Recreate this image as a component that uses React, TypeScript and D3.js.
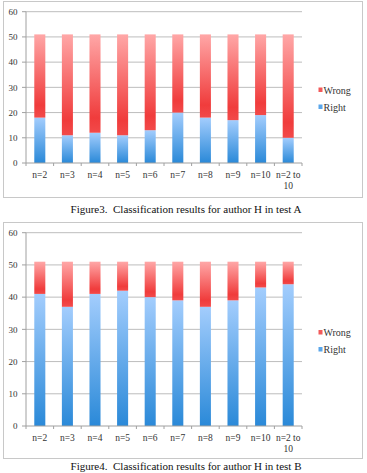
import React from "react";
import * as d3 from "d3";

const categories = ["n=2", "n=3", "n=4", "n=5", "n=6", "n=7", "n=8", "n=9", "n=10", "n=2 to 10"];
const rightA = [18, 11, 12, 11, 13, 20, 18, 17, 19, 10];
const wrongA = [33, 40, 39, 40, 38, 31, 33, 34, 32, 41];
const rightB = [41, 37, 41, 42, 40, 39, 37, 39, 43, 44];
const wrongB = [10, 14, 10, 9, 11, 12, 14, 12, 8, 7];
const yTicks = [0, 10, 20, 30, 40, 50, 60];
const seriesNames = ["Wrong", "Right"];
const captionA = "Figure3.  Classification results for author H in test A";
const captionB = "Figure4.  Classification results for author H in test B";

const FONT = "'Liberation Serif', 'DejaVu Serif', serif";

type ChartProps = {
  right: number[];
  wrong: number[];
  boxY: number;
  boxH: number;
  plotTop: number;
  plotBottom: number;
  caption: string;
  captionY: number;
  legendY: number;
};

function Chart({ right, wrong, boxY, boxH, plotTop, plotBottom, caption, captionY, legendY }: ChartProps) {
  const x0 = 26;
  const x1 = 302;
  const x = d3.scaleBand<string>().domain(categories).range([x0, x1]).paddingInner(0.6).paddingOuter(0.3);
  const step = (x1 - x0) / categories.length;
  const y = d3.scaleLinear().domain([0, 60]).range([plotBottom, plotTop]);
  const data = categories.map((c, i) => ({ c, r: right[i], w: wrong[i] }));
  return (
    <g>
      <rect x={3.5} y={boxY + 0.5} width={359} height={boxH} fill="#fff" stroke="#c8c8c8" strokeWidth={1} />
      {yTicks.map((t) => (
        <g key={t}>
          {t > 0 && <line x1={x0} x2={x1} y1={y(t)} y2={y(t)} stroke="#bdbdbd" strokeWidth={1} />}
          <line x1={x0 - 4} x2={x0} y1={y(t)} y2={y(t)} stroke="#a0a0a0" strokeWidth={1} />
          <text x={17.5} y={y(t)} dy="0.35em" textAnchor="end" fontSize={9} fill="#333" fontFamily={FONT}>
            {t}
          </text>
        </g>
      ))}
      {data.map((d) => (
        <g key={d.c}>
          <rect x={x(d.c)} y={y(d.r)} width={x.bandwidth()} height={y(0) - y(d.r)} fill="url(#gBlue)" />
          <rect x={x(d.c)} y={y(d.r + d.w)} width={x.bandwidth()} height={y(d.r) - y(d.r + d.w)} fill="url(#gRed)" />
        </g>
      ))}
      <line x1={x0} x2={x0} y1={plotTop} y2={plotBottom} stroke="#a0a0a0" strokeWidth={1} />
      <line x1={x0} x2={x1} y1={plotBottom} y2={plotBottom} stroke="#a0a0a0" strokeWidth={1} />
      {d3.range(categories.length + 1).map((i) => (
        <line key={i} x1={x0 + i * step} x2={x0 + i * step} y1={plotBottom} y2={plotBottom + 3} stroke="#a0a0a0" strokeWidth={1} />
      ))}
      {categories.map((c) => {
        const cx = (x(c) as number) + x.bandwidth() / 2;
        const parts = c === "n=2 to 10" ? ["n=2 to", "10"] : [c];
        return (
          <text key={c} x={cx} y={plotBottom + 15} textAnchor="middle" fontSize={9.5} fill="#333" fontFamily={FONT}>
            {parts.map((p, k) => (
              <tspan key={k} x={cx} dy={k === 0 ? 0 : 10.5}>
                {p}
              </tspan>
            ))}
          </text>
        );
      })}
      {seriesNames.map((s, k) => (
        <g key={s}>
          <rect x={318.5} y={legendY + k * 17 - 2.5} width={4} height={4.5} fill={s === "Wrong" ? "#f25a5a" : "#5aa6ea"} />
          <text x={323.5} y={legendY + k * 17} dy="0.35em" fontSize={10} fill="#333" fontFamily={FONT}>
            {s}
          </text>
        </g>
      ))}
      <text
        x={186}
        y={captionY}
        dy="0.35em"
        textAnchor="middle"
        fontSize={11}
        fill="#111"
        fontFamily={FONT}
        style={{ whiteSpace: "pre" }}
      >
        {caption}
      </text>
    </g>
  );
}

export default function App() {
  return (
    <svg width={367} height={473} style={{ position: "absolute", left: 0, top: 0, background: "#fff" }}>
      <defs>
        <linearGradient id="gBlue" x1="0" y1="0" x2="0" y2="1">
          <stop offset="0" stopColor="#a3cdfd" />
          <stop offset="1" stopColor="#2a89d8" />
        </linearGradient>
        <linearGradient id="gRed" x1="0" y1="0" x2="0" y2="1">
          <stop offset="0" stopColor="#ffa7a7" />
          <stop offset="0.85" stopColor="#f03c3c" />
          <stop offset="1" stopColor="#f24a4a" />
        </linearGradient>
      </defs>
      <rect width={367} height={473} fill="#fff" />
      <Chart right={rightA} wrong={wrongA} boxY={1} boxH={196} plotTop={11.7} plotBottom={163} caption={captionA} captionY={209} legendY={90} />
      <Chart right={rightB} wrong={wrongB} boxY={222} boxH={236} plotTop={232.7} plotBottom={426} caption={captionB} captionY={466} legendY={332.5} />
    </svg>
  );
}
